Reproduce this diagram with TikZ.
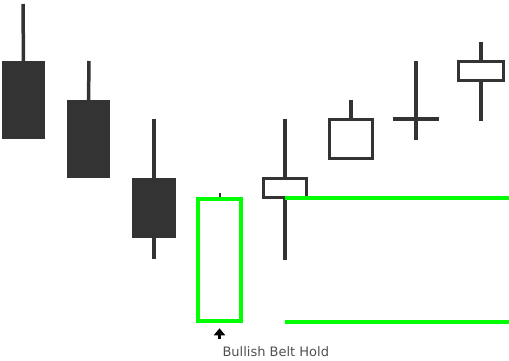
\documentclass[tikz,border=0pt]{standalone}
\usepackage{fontspec}
\setmainfont{DejaVu Sans}
\usetikzlibrary{arrows.meta}
\definecolor{stick}{HTML}{333333}
\definecolor{belt}{HTML}{00FF00}
\definecolor{note}{HTML}{505050}

\begin{document}
\begin{tikzpicture}[x=1pt, y=-1pt,
    bear/.style={rectangle, fill=stick, draw=none, inner sep=0pt},
    bull/.style={rectangle, draw=stick, line width=3.5pt, inner sep=0pt},
    beltbox/.style={rectangle, draw=belt, line width=4.5pt, inner sep=0pt},
    wick/.style={draw=stick, line width=3.5pt},
    level/.style={draw=belt, line width=4.5pt},
    arr/.style={line width=3pt, -{Triangle[length=7pt, width=11pt]}}
]
    \useasboundingbox (0,0) rectangle (509,361);
    % falling candles
    \node[bear, minimum width=43pt, minimum height=78pt] (c1) at (23.5,100) {};
    \node[bear, minimum width=43pt, minimum height=78pt] (c2) at (88.5,139) {};
    \node[bear, minimum width=44pt, minimum height=60pt] (c3) at (154,208) {};
    \coordinate (h1) at (23,4);
    \coordinate (h2) at (89,61);
    \coordinate (h3) at (154,119);
    \coordinate (l3) at (154,259);
    \draw[wick] (h1) -- ([yshift=-2pt]c1.north);
    \draw[wick] (h2) -- ([yshift=-2pt]c2.north);
    \draw[wick] (h3) -- ([yshift=-2pt]c3.north);
    \draw[wick] ([yshift=2pt]c3.south) -- (l3);
    % belt hold
    \coordinate (h4) at (220,193);
    \draw[wick, line width=2pt] (h4) -- (220,198);
    \node[beltbox, minimum width=43pt, minimum height=122pt] (c4) at (219.5,260) {};
    % rising candles
    \node[bull, minimum width=43pt, minimum height=19pt] (c5) at (285,188) {};
    \node[bull, minimum width=43pt, minimum height=39pt] (c6) at (351,139) {};
    \node[bull, minimum width=45pt, minimum height=19pt] (c8) at (481,71) {};
    \coordinate (h5) at (285,119);
    \coordinate (l5) at (285,260);
    \coordinate (h6) at (351,100);
    \coordinate (h7) at (416,61);
    \coordinate (l7) at (416,140);
    \coordinate (o7) at (393,119);
    \coordinate (e7) at (439,119);
    \coordinate (h8) at (481,42);
    \coordinate (l8) at (481,121);
    \draw[wick] (h5) -- (c5.north);
    \draw[wick] (c5.south) -- (l5);
    \draw[wick] (h6) -- (c6.north);
    \draw[wick] (h7) -- (l7);
    \draw[wick] (o7) -- (e7);
    \draw[wick] (h8) -- (c8.north);
    \draw[wick] (c8.south) -- (l8);
    % levels
    \coordinate (r1) at (509,198);
    \coordinate (s2) at (285,322);
    \coordinate (r2) at (509,322);
    \draw[level] (c5.south |- r1) -- (r1);
    \draw[level] (s2) -- (r2);
    % label
    \node[font=\fontsize{13}{15}\selectfont, text=note, anchor=base west] (lbl) at (219,356) {Bullish Belt Hold};
    \coordinate (a1) at (219.5,339);
    \draw[arr] (a1) -- ([yshift=-5pt]c4.south);
\end{tikzpicture}
\end{document}
